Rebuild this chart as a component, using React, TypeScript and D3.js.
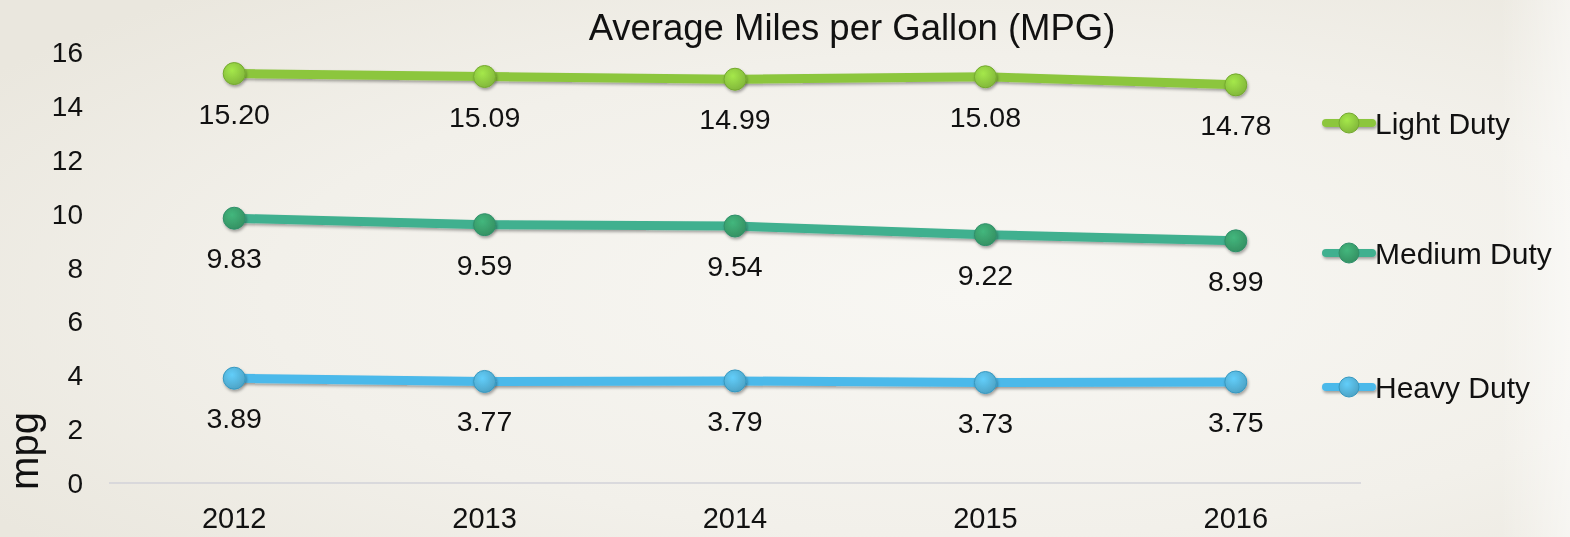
import React from "react";
import * as d3 from "d3";

const years = ["2012", "2013", "2014", "2015", "2016"];
const lightDuty = [15.2, 15.09, 14.99, 15.08, 14.78];
const mediumDuty = [9.83, 9.59, 9.54, 9.22, 8.99];
const heavyDuty = [3.89, 3.77, 3.79, 3.73, 3.75];
const yTicks = [0, 2, 4, 6, 8, 10, 12, 14, 16];

const W = 1570;
const H = 537;

const seriesList = [
  { name: "Light Duty", values: lightDuty, line: "#8cc63e", lineDark: "#74a92f", marker: "#8fc940", legendY: 123 },
  { name: "Medium Duty", values: mediumDuty, line: "#3fb08f", lineDark: "#2f8f6a", marker: "#3a9f6c", legendY: 253 },
  { name: "Heavy Duty", values: heavyDuty, line: "#4bb9ea", lineDark: "#3698c0", marker: "#55b3d9", legendY: 387 },
];

export default function App() {
  const x = d3.scaleBand<string>().domain(years).range([109, 1361]);
  const y = d3.scaleLinear().domain([0, 16]).range([483, 52]);
  const cx = (d: string) => (x(d) as number) + x.bandwidth() / 2;
  const font = "'Liberation Sans', Arial, sans-serif";

  return (
    <svg width={W} height={H} style={{ position: "fixed", left: 0, top: 0 }} fontFamily={font}>
      <defs>
        <radialGradient id="bg" cx="0.62" cy="0.55" r="0.75">
          <stop offset="0" stopColor="#f8f7f3" />
          <stop offset="0.6" stopColor="#f2f0ea" />
          <stop offset="1" stopColor="#eae7de" />
        </radialGradient>
        <linearGradient id="edge" x1="0" x2="1" y1="0" y2="0">
          <stop offset="0" stopColor="#ffffff" stopOpacity="0" />
          <stop offset="1" stopColor="#ffffff" stopOpacity="0.5" />
        </linearGradient>
        <filter id="shadow" filterUnits="userSpaceOnUse" x={0} y={0} width={W} height={H}>
          <feDropShadow dx="1" dy="2" stdDeviation="1.5" floodColor="#000" floodOpacity="0.35" />
        </filter>
        {seriesList.map((s, i) => (
          <radialGradient key={i} id={`mk${i}`} cx="0.4" cy="0.35" r="0.7">
            <stop offset="0" stopColor={d3.color(s.marker)!.brighter(0.4).toString()} />
            <stop offset="1" stopColor={d3.color(s.marker)!.darker(0.3).toString()} />
          </radialGradient>
        ))}
      </defs>
      <rect x={0} y={0} width={W} height={H} fill="url(#bg)" />
      <rect x={1500} y={0} width={70} height={H} fill="url(#edge)" />

      <text x={852} y={40} textAnchor="middle" fontSize={36.5} fill="#111">
        Average Miles per Gallon (MPG)
      </text>

      {yTicks.map((t) => (
        <text key={t} x={83} y={y(t) + 10} textAnchor="end" fontSize={28} fill="#111">
          {t}
        </text>
      ))}
      <text transform={`translate(38,451) rotate(-90)`} textAnchor="middle" fontSize={40} fill="#111">
        mpg
      </text>

      <line x1={109} x2={1361} y1={y(0)} y2={y(0)} stroke="#d2d2d8" strokeWidth={1.5} />
      {years.map((yr) => (
        <text key={yr} x={cx(yr)} y={528} textAnchor="middle" fontSize={29} fill="#111">
          {yr}
        </text>
      ))}

      {seriesList.map((s, i) => {
        const lineGen = d3
          .line<number>()
          .x((_, j) => cx(years[j]))
          .y((v) => y(v));
        return (
          <g key={s.name}>
            <path d={lineGen(s.values) || ""} fill="none" stroke={s.line} strokeWidth={9} strokeLinecap="round" filter="url(#shadow)" />
            {s.values.map((v, j) => (
              <circle key={j} cx={cx(years[j])} cy={y(v)} r={11} fill={`url(#mk${i})`} stroke={s.lineDark} strokeWidth={1} filter="url(#shadow)" />
            ))}
            {s.values.map((v, j) => (
              <text key={"l" + j} x={cx(years[j])} y={y(v) + 50} textAnchor="middle" fontSize={28.5} fill="#111">
                {v.toFixed(2)}
              </text>
            ))}
            <line x1={1326} x2={1372} y1={s.legendY} y2={s.legendY} stroke={s.line} strokeWidth={8} strokeLinecap="round" filter="url(#shadow)" />
            <circle cx={1349} cy={s.legendY} r={10} fill={`url(#mk${i})`} stroke={s.lineDark} strokeWidth={1} />
            <text x={1375} y={s.legendY + 11} fontSize={30} fill="#111">
              {s.name}
            </text>
          </g>
        );
      })}
    </svg>
  );
}
